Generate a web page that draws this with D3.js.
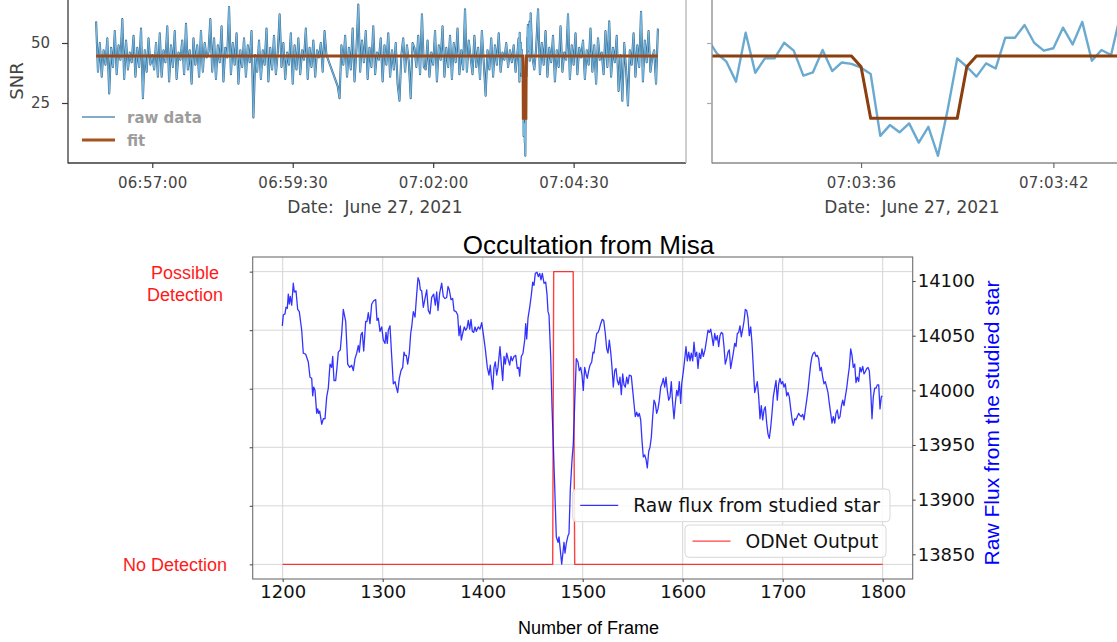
<!DOCTYPE html>
<html>
<head>
<meta charset="utf-8">
<script src="https://cdn.jsdelivr.net/npm/d3@7"></script>
<style>
  body { margin: 0; background: #fff; }
  svg { display: block; }
  text { white-space: pre; }
</style>
</head>
<body>
<svg id="stage" width="1117" height="642"></svg>
<script>
// ---- top panels: SNR light curve, 27 June 2021 ----
// coarse raw SNR, one value every snrStep seconds from 06:56:00 (null = no data / replaced by zoom samples)
const snrStep = 2;
const snrRaw = [
  59, 38, 50, 36, 47, 41, 52, 29, 48, 40, 55, 37, 49, 43, 60, 35, 51, 39, 46, 42,
  53, 36, 48, 40, 56, 27, 47, 38, 52, 41, 45, 39, 50, 36, 54, 36, 47, 42, 57, 34,
  49, 40, 55, 35, 46, 43, 51, 37, 58, 39, 47, 33, 52, 41, 49, 36, 55, 38, 50, 44,
  46, 60, 38, 52, 35, 49, 42, 57, 34, 48, 44, 65, 37, 50, 41, 54, 33, 47, 40, 52,
  36, 49, 42, 55, 19, 45, 38, 51, 35, 47, 41, 56, 34, 48, 39, 53, 37, 46, 62, 40,
  50, 35, 46, 41, 54, 33, 49, 39, 52, 37, 47, 43, 56, 35, 48, 40, 51, 36, 47, 44,
  50, 38, 55, 45, null, null, null, null, null, 32, 27, 49, 41, 53, 36, 48, 39, 56, 34, 47,
  66, 38, 51, 42, 55, 35, 48, 40, 57, 37, 46, 43, 52, 34, 49, 41, 54, 36, 47, 39,
  50, 33, 26, 45, 52, 38, 49, 42, 27, 50, 48, 40, 53, 37, 62, 40, 39, 51, 36, 46,
  41, 55, 34, 49, 43, 57, 36, 48, 40, 53, 35, 50, 42, 56, 37, 47, 39, 64, 38, 51,
  44, 37, 53, 40, 48, 35, 55, 42, 28, 47, 39, 52, 36, 49, 41, 54, 38, 46, 43, 50,
  40, 47, 42, 49, 38, 46, null, null, null, null, null, null, null, 44, 39, 48, 64, 37, 50, 41,
  55, 36, 48, 42, 53, 34, 47, 40, 57, 38, 46, 43, 62, 35, 49, 41, 54, 37, 48, 44,
  51, 35, 47, 41, 56, 38, 49, 33, 52, 43, 46, 37, 55, 40, 59, 36, 48, 42, 53, 30,
  45, 26, 50, 39, 24, 47, 41, 54, 36, 49, 40, 63, 34, 51, 42, 55, 38, 44, 47, 33,
  56
];
// full-rate samples around the event, seconds after 07:03:00
const zoomSeconds = [
  31.2, 31.5, 31.8, 32.1, 32.4, 32.7, 33.0, 33.3, 33.6, 33.9, 34.2, 34.5, 34.8, 35.1, 35.4,
  35.7, 36.0, 36.3, 36.6, 36.9, 37.2, 37.5, 37.8, 38.1, 38.4, 38.7, 39.0, 39.3, 39.6, 39.9,
  40.2, 40.5, 40.8, 41.1, 41.4, 41.7, 42.0, 42.3, 42.6, 42.9, 43.2, 43.5, 43.8, 44.1
];
const zoomSnr = [
  51.9, 45.7, 42.2, 33.9, 54.3, 37.6, 43.6, 43.6, 50.1, 46.8, 36.4, 37.8, 47.1, 38.3, 41.9,
  41.3, 39.7, 37.1, 11.3, 15.8, 12.8, 16.5, 8.5, 15.1, 3.0, 22.1, 43.6, 40.1, 36.0, 41.5,
  39.4, 52.2, 52.2, 57.5, 50.1, 46.8, 47.8, 56.4, 49.4, 58.8, 42.6, 47.1, 45.0, 62.4
];
// fitted model, seconds after 06:56:00
const fitSeconds = [0, 455.7, 456.0, 456.3, 459.0, 459.3, 459.6, 600];
const fitSnr = [44.6, 44.6, 40.1, 18.6, 18.6, 40.1, 44.6, 44.6];

const fullTicks = ["06:57:00", "06:59:30", "07:02:00", "07:04:30"];
const zoomTicks = ["07:03:36", "07:03:42"];
const snrTicks = [25, 50];

// ---- bottom panel: Occultation from Misa ----
const fluxFrames = [
  1199.6, 1200.6, 1202.3, 1203.3, 1204.6, 1205.6, 1206.6, 1207.6, 1209, 1210.6, 1211.6, 1213.3, 1215, 1216.6, 1219,
  1220.6, 1223, 1225.6, 1227.3, 1229, 1230, 1231, 1232.3, 1234, 1235, 1236, 1237, 1239, 1240.6, 1242.3,
  1244, 1245.6, 1247.3, 1249, 1250, 1251.3, 1253, 1254.3, 1255.6, 1257.6, 1259, 1260.6, 1263, 1265, 1267,
  1269, 1270.6, 1272.3, 1274, 1275.6, 1276.6, 1278.3, 1279.6, 1281, 1283, 1284.3, 1285.6, 1287.3, 1289, 1291,
  1293, 1294.3, 1295.6, 1297.3, 1299, 1300.6, 1302.3, 1303.3, 1304.6, 1305.6, 1307.3, 1309, 1310.6, 1312.3, 1313.6,
  1315, 1316.6, 1318.3, 1320, 1321.3, 1322.3, 1323.6, 1325, 1326.6, 1328, 1329, 1330.6, 1332.3, 1334, 1335.3,
  1336.6, 1337.6, 1339, 1340.6, 1342.3, 1344, 1345.6, 1347.3, 1349, 1351, 1352.6, 1354, 1355.3, 1357, 1359,
  1360.6, 1362.3, 1364, 1365.3, 1366.6, 1368.3, 1370, 1371.3, 1373.3, 1375, 1376.3, 1377.6, 1378.6, 1380, 1381.6,
  1383, 1384.3, 1385.6, 1387, 1388.3, 1389.6, 1391, 1392.3, 1393.6, 1395.6, 1397.3, 1399,
  1401, 1402.6, 1404.6, 1406.3, 1407.6, 1408.6, 1410, 1411.3, 1412.6, 1414, 1415.3, 1417.3, 1418.6, 1420, 1421.3,
  1422.6, 1424, 1425.3, 1427, 1428.3, 1429.6, 1431.3, 1433, 1434.6, 1436, 1437, 1438.6, 1440.3, 1442, 1443,
  1444, 1445.3, 1447, 1448.6, 1450, 1451.3, 1452.6, 1454.3, 1455.6, 1457, 1458.3, 1459.6, 1461.3, 1463, 1464.3,
  1465.3, 1466.3, 1468, 1469.3, 1470.6, 1472, 1473.6, 1475.3, 1476.3, 1477.6, 1479, 1480.3, 1481.3, 1482.3, 1483.6,
  1485.3, 1486.3, 1487.6, 1489.3, 1490.6, 1492, 1493.6, 1495.3, 1496.6, 1498, 1499.3, 1500.6, 1502, 1503.6, 1504.6,
  1506, 1507.3, 1509, 1510.3, 1511.3, 1512.6, 1514, 1515.3, 1516.6, 1518, 1519.6, 1521, 1522.6, 1524, 1525.3,
  1526.6, 1528, 1529.3, 1530.6, 1532, 1533.3, 1534.6, 1536, 1537.3, 1538.6, 1540, 1541.3, 1542.6, 1544, 1545.3,
  1546.6, 1548.6, 1550, 1551.3, 1552.6, 1554, 1555.3, 1556.6, 1558, 1559.3, 1560.6, 1562, 1563.3, 1564.6, 1566,
  1567.3, 1568.6, 1570, 1571.3, 1572.6, 1574, 1575.3, 1576.6, 1578, 1579.3, 1580.6, 1582, 1583.3, 1584.6, 1586,
  1587.3, 1588.6, 1590, 1591.3, 1592.6, 1594, 1595.3, 1596.6, 1598,
  1599, 1600.6, 1602.3, 1603.3, 1604.6, 1606, 1607.3, 1608.6, 1610, 1611.3, 1612.6, 1614, 1615.3, 1616.6, 1618,
  1619.3, 1620.6, 1622.3, 1624, 1625.3, 1626.6, 1628, 1629.3, 1630.6, 1632, 1633.3, 1634.6, 1636, 1637.3, 1638.6,
  1640, 1641.3, 1642.6, 1644, 1645.3, 1646.6, 1648, 1649.3, 1650.6, 1652, 1653.3, 1654.6, 1656, 1657.3, 1658.6,
  1660, 1661.3, 1662.6, 1664, 1665.3, 1666.6, 1668, 1669.3, 1670.6, 1672, 1673.3, 1674.6, 1676, 1677.3, 1678.6,
  1680, 1681.3, 1682.6, 1684, 1685.3, 1686.6, 1688, 1689.3, 1690.6, 1692, 1693.3, 1694.6, 1696, 1697.3, 1698.6,
  1700, 1701.3, 1702.6, 1704, 1705.3, 1706.6, 1708, 1709.3, 1710.6, 1712, 1713.3, 1714.6, 1716, 1717.3, 1718.6,
  1720, 1721.3, 1722.6, 1724, 1725.3, 1726.6, 1728, 1729.3, 1730.6, 1732, 1733.3, 1734.6, 1736, 1737.3, 1738.6,
  1740, 1741.3, 1742.6, 1744, 1745.3, 1746.6, 1748, 1749.3, 1750.6, 1752, 1753.3, 1754.6, 1756, 1757.3, 1758.6,
  1760, 1761.3, 1762.6, 1764, 1765.3, 1766.6, 1768, 1769.3, 1770.6, 1772, 1773.3, 1774.6, 1776, 1777.3, 1778.6,
  1780, 1781.3, 1782.6, 1784, 1785.3, 1786.6, 1788, 1789.3, 1790.6, 1792, 1793.3, 1794.6, 1796, 1797.3, 1798.6,
  1799.6
];
const fluxValues = [
  14059, 14069, 14070, 14076, 14075, 14088, 14079, 14086, 14078, 14098, 14090, 14091, 14074, 14072, 14055,
  14034, 14033, 14026, 14012, 14011, 13995, 14003, 14000, 13979, 13983, 13979, 13981, 13969, 13974, 13974,
  13994, 14002, 14024, 14021, 14031, 14009, 14009, 14021, 14035, 14037, 14052, 14074, 14063, 14024, 14021,
  14023, 14018, 14029, 14034, 14041, 14035, 14051, 14053, 14036, 14063, 14063, 14071, 14061, 14079, 14082,
  14083, 14064, 14066, 14054, 14058, 14046, 14043, 14053, 14043, 14055, 14059, 14031, 14006, 14008, 14003,
  13998, 14011, 14018, 14021, 14035, 14032, 14032, 14024, 14034, 14052, 14058, 14072, 14067, 14088, 14103,
  14100, 14092, 14091, 14076, 14084, 14092, 14073, 14070, 14085, 14088, 14078, 14090, 14073, 14089, 14098,
  14086, 14084, 14085, 14095, 14092, 14083, 14084, 14073, 14072, 14069, 14050, 14059, 14046, 14052, 14058,
  14055, 14057, 14064, 14056, 14065, 14054, 14053, 14058, 14054, 14058, 14056, 14062,
  14049, 14038, 14021, 14014, 14023, 14012, 14001, 14021, 14026, 14014, 14021, 14040, 14024, 14009, 14031,
  14024, 14034, 14029, 14023, 14031, 14027, 14031, 14032, 14020, 14021, 14013, 14031, 14034, 14046, 14061,
  14047, 14066, 14076, 14087, 14099, 14096, 14107, 14108, 14104, 14107, 14101, 14107, 14098, 14099, 14088,
  14072, 14069, 14031, 13985, 13951, 13912, 13866, 13861, 13866, 13854, 13841, 13852, 13861, 13851, 13860,
  13867, 13869, 13909, 13936, 13951, 13988, 14029, 14026, 14018, 14021, 14014, 14000, 14021, 14014, 14011,
  14018, 14023, 14026, 14035, 14034, 14043, 14052, 14053, 14056, 14061, 14065, 14064, 14052, 14038, 14034,
  14046, 14035, 14021, 14003, 14018, 14020, 14009, 14005, 14012, 13996, 14015, 14005, 14003, 14012, 14006,
  14014, 14013, 14000, 13988, 13976, 13980, 13976, 13979, 13973, 13954, 13939, 13941, 13937, 13929, 13944,
  13948, 13957, 13976, 13991, 13988, 13979, 13983, 13991, 14003, 14006, 14011, 14003, 14012, 14000, 13991,
  13994, 14008, 13988, 13974, 13988, 14000, 13995, 14008, 13988,
  14006, 14017, 14031, 14040, 14027, 14035, 14027, 14034, 14027, 14044, 14031, 14035, 14020, 14034, 14029,
  14038, 14031, 14037, 14047, 14055, 14053, 14056, 14049, 14041, 14052, 14046, 14050, 14040, 14050, 14053,
  14052, 14040, 14024, 14029, 14035, 14037, 14020, 14027, 14034, 14043, 14040, 14052, 14053, 14059, 14049,
  14056, 14063, 14074, 14073, 14066, 14050, 14058, 14043, 14021, 13998, 14003, 14008, 13994, 13974, 13986,
  13973, 13982, 13985, 13970, 13960, 13956, 13966, 13979, 13994, 14002, 14009, 13991, 14006, 14011, 14006,
  14008, 14003, 14006, 13995, 13998, 13994, 13983, 13974, 13968, 13974, 13973, 13976, 13979, 13977, 13976,
  13978, 13973, 13982, 13991, 14000, 14012, 14024, 14031, 14034, 14035, 14031, 14032, 14029, 14018, 14021,
  14012, 14006, 14008, 14003, 13998, 13988, 13979, 13970, 13976, 13970, 13979, 13982, 13974, 13976, 13985,
  13991, 13986, 13994, 14002, 14012, 14021, 14038, 14032, 14021, 14024, 14007, 14012, 14008, 14021, 14017,
  14022, 14015, 14017, 14020, 14021, 14018, 14000, 13974, 13994, 14002, 14002, 14005, 14005, 13983, 13994,
  13995
];
const odnetFrames = [1200, 1470, 1471, 1490.5, 1492, 1800];
const odnetValues = [0, 0, 1, 1, 0, 0];
const frameTicks = [1200, 1300, 1400, 1500, 1600, 1700, 1800];
const fluxTicks = [13850, 13900, 13950, 14000, 14050, 14100];
const detectionTicks = [0, 0.2, 0.4, 0.6, 0.8, 1];

const svg = d3.select("#stage");
svg.append("rect").attr("width", 1117).attr("height", 642).attr("fill", "#fff");

const DV = "DejaVu Sans";
const LS = "Liberation Sans, Arial, sans-serif";

// time helpers
const t0 = new Date(2021, 5, 27, 6, 56, 0);
const at = (s) => new Date(+t0 + s * 1000);
const parseClock = d3.timeParse("%H:%M:%S");
const onDay = (str) => {
  const c = parseClock(str);
  return new Date(2021, 5, 27, c.getHours(), c.getMinutes(), c.getSeconds());
};
const clockFmt = d3.timeFormat("%H:%M:%S");

// series in seconds after 06:56:00
const zoomPts = zoomSeconds.map((s, i) => ({ s: s + 420, v: zoomSnr[i] }));
const zStart = zoomPts[0].s, zEnd = zoomPts[zoomPts.length - 1].s;
const fullPts = snrRaw
  .map((v, i) => ({ s: i * snrStep, v }))
  .filter((d) => d.v !== null && (d.s < zStart || d.s > zEnd))
  .concat(zoomPts)
  .sort((a, b) => a.s - b.s);
const fitPts = fitSeconds.map((s, i) => ({ s, v: fitSnr[i] }));

const ySnr = d3.scaleLinear().domain([0, 50]).range([163, 43]);

// ---------- top-left: whole night ----------
const xFull = d3.scaleTime().domain([at(-30), at(630)]).range([68, 686]);
const defs = svg.append("defs");
defs.append("clipPath").attr("id", "clipL").append("rect")
  .attr("x", 68).attr("y", -20).attr("width", 618).attr("height", 183);
defs.append("clipPath").attr("id", "clipR").append("rect")
  .attr("x", 712).attr("y", -20).attr("width", 420).attr("height", 183);

const lineL = d3.line().x((d) => xFull(at(d.s))).y((d) => ySnr(d.v));
const gL = svg.append("g").attr("clip-path", "url(#clipL)");
gL.append("path").datum(fullPts).attr("d", lineL)
  .attr("fill", "none").attr("stroke", "#3a6a8c").attr("stroke-width", 2.1).attr("stroke-linejoin", "round");
gL.append("path").datum(fullPts).attr("d", lineL)
  .attr("fill", "none").attr("stroke", "#78bce6").attr("stroke-width", 1.0).attr("stroke-linejoin", "round");
gL.append("path").datum(fitPts).attr("d", lineL)
  .attr("fill", "none").attr("stroke", "#9a4a1a").attr("stroke-width", 3);

// spines
svg.append("line").attr("x1", 68).attr("x2", 68).attr("y1", -5).attr("y2", 163.5)
  .attr("stroke", "#3a3a3a").attr("stroke-width", 1.3);
svg.append("line").attr("x1", 68).attr("x2", 686).attr("y1", 163).attr("y2", 163)
  .attr("stroke", "#3a3a3a").attr("stroke-width", 1.3);
svg.append("line").attr("x1", 686).attr("x2", 686).attr("y1", -5).attr("y2", 163)
  .attr("stroke", "#b4b4b4").attr("stroke-width", 1.3);

const axL = svg.append("g").attr("transform", "translate(0,163)")
  .call(d3.axisBottom(xFull).tickValues(fullTicks.map(onDay)).tickFormat(clockFmt).tickSize(5).tickPadding(9));
const axLy = svg.append("g").attr("transform", "translate(68,0)")
  .call(d3.axisLeft(ySnr).tickValues(snrTicks).tickSize(6).tickPadding(12));
[axL, axLy].forEach((g) => {
  g.select(".domain").remove();
  g.selectAll("line").attr("stroke", "#3a3a3a").attr("stroke-width", 1.2);
  g.selectAll("text").attr("font-family", DV).attr("font-size", 15).attr("fill", "#444");
});
axL.selectAll("text").attr("letter-spacing", 0.3);

svg.append("text").attr("transform", "translate(23,81) rotate(-90)").attr("text-anchor", "middle")
  .attr("font-family", DV).attr("font-size", 18).attr("fill", "#444").text("SNR");
svg.append("text").attr("x", 375).attr("y", 213).attr("text-anchor", "middle")
  .attr("font-family", DV).attr("font-size", 17).attr("fill", "#444").text("Date:  June 27, 2021");

// legend
svg.append("line").attr("x1", 82).attr("x2", 115).attr("y1", 117).attr("y2", 117)
  .attr("stroke", "#5a90b4").attr("stroke-width", 1.5);
svg.append("line").attr("x1", 82).attr("x2", 115).attr("y1", 140).attr("y2", 140)
  .attr("stroke", "#a5531f").attr("stroke-width", 3);
svg.append("text").attr("x", 127).attr("y", 122.5).attr("font-family", DV).attr("font-weight", "bold")
  .attr("font-size", 15).attr("fill", "#9c9c9c").text("raw data");
svg.append("text").attr("x", 127).attr("y", 145.5).attr("font-family", DV).attr("font-weight", "bold")
  .attr("font-size", 15).attr("fill", "#9c9c9c").text("fit");

// ---------- top-right: zoom on the event ----------
const xZoom = d3.scaleTime().domain([at(451.35), at(464.39)]).range([712, 1130]);
const lineR = d3.line().x((d) => xZoom(at(d.s))).y((d) => ySnr(d.v));
const gR = svg.append("g").attr("clip-path", "url(#clipR)");
gR.append("path").datum(zoomPts).attr("d", lineR)
  .attr("fill", "none").attr("stroke", "#6aaad1").attr("stroke-width", 2.4).attr("stroke-linejoin", "round");
gR.append("path").datum(fitPts).attr("d", lineR)
  .attr("fill", "none").attr("stroke", "#8b3e0e").attr("stroke-width", 3).attr("stroke-linejoin", "round");

svg.append("line").attr("x1", 712).attr("x2", 712).attr("y1", -5).attr("y2", 163.5)
  .attr("stroke", "#8a8a8a").attr("stroke-width", 1.3);
svg.append("line").attr("x1", 712).attr("x2", 1117).attr("y1", 163).attr("y2", 163)
  .attr("stroke", "#8a8a8a").attr("stroke-width", 1.3);

const axR = svg.append("g").attr("transform", "translate(0,163)")
  .call(d3.axisBottom(xZoom).tickValues(zoomTicks.map(onDay)).tickFormat(clockFmt).tickSize(5).tickPadding(9));
const axRy = svg.append("g").attr("transform", "translate(712,0)")
  .call(d3.axisLeft(ySnr).tickValues(snrTicks).tickSize(5).tickFormat(""));
[axR, axRy].forEach((g) => {
  g.select(".domain").remove();
  g.selectAll("line").attr("stroke", "#6a6a6a").attr("stroke-width", 1.2);
  g.selectAll("text").attr("font-family", DV).attr("font-size", 15).attr("fill", "#444");
});
axRy.selectAll("line").attr("stroke", "#aaa");
axR.selectAll("text").attr("letter-spacing", 0.3);
svg.append("text").attr("x", 912).attr("y", 213).attr("text-anchor", "middle")
  .attr("font-family", DV).attr("font-size", 17).attr("fill", "#444").text("Date:  June 27, 2021");

// ---------- bottom: ODNet output vs raw flux ----------
const box = { l: 252.7, r: 912.7, t: 257, b: 579 };
const xF = d3.scaleLinear().domain([1170, 1830]).range([box.l, box.r]);
const yD = d3.scaleLinear().domain([-0.05, 1.05]).range([box.b, box.t]);
const yF = d3.scaleLinear().domain([13827.4, 14122]).range([box.b, box.t]);

const grid = svg.append("g").attr("stroke", "#d6d6d6").attr("stroke-width", 1);
grid.selectAll(".v").data(frameTicks).join("line")
  .attr("x1", (d) => xF(d)).attr("x2", (d) => xF(d)).attr("y1", box.t).attr("y2", box.b);
grid.selectAll(".h").data(detectionTicks).join("line")
  .attr("x1", box.l).attr("x2", box.r).attr("y1", (d) => yD(d)).attr("y2", (d) => yD(d));

const odnetPts = odnetFrames.map((f, i) => ({ f, v: odnetValues[i] }));
svg.append("path").datum(odnetPts)
  .attr("d", d3.line().x((d) => xF(d.f)).y((d) => yD(d.v)))
  .attr("fill", "none").attr("stroke", "#ff0000").attr("stroke-opacity", 0.75)
  .attr("stroke-width", 1.4).attr("stroke-linejoin", "round");

const fluxPts = fluxFrames.map((f, i) => ({ f, v: fluxValues[i] }));
svg.append("path").datum(fluxPts)
  .attr("d", d3.line().x((d) => xF(d.f)).y((d) => yF(d.v)))
  .attr("fill", "none").attr("stroke", "#0000ff").attr("stroke-opacity", 0.8)
  .attr("stroke-width", 1.3).attr("stroke-linejoin", "round");

svg.append("rect").attr("x", box.l).attr("y", box.t).attr("width", box.r - box.l).attr("height", box.b - box.t)
  .attr("fill", "none").attr("stroke", "#6e6e6e").attr("stroke-width", 1.1);

const intFmt = d3.format("d");
const axB = svg.append("g").attr("transform", `translate(0,${box.b})`)
  .call(d3.axisBottom(xF).tickValues(frameTicks).tickFormat(intFmt).tickSize(3).tickPadding(3));
const axFR = svg.append("g").attr("transform", `translate(${box.r},0)`)
  .call(d3.axisRight(yF).tickValues(fluxTicks).tickFormat(intFmt).tickSize(3).tickPadding(2));
const axDL = svg.append("g").attr("transform", `translate(${box.l},0)`)
  .call(d3.axisLeft(yD).tickValues(detectionTicks).tickSize(3).tickFormat(""));
[axB, axFR, axDL].forEach((g) => {
  g.select(".domain").remove();
  g.selectAll("line").attr("stroke", "#444");
  g.selectAll("text").attr("font-family", DV).attr("font-size", 18).attr("fill", "#111");
});

// detection labels on the left axis
const red = "#ff1a1a";
svg.append("text").attr("x", 185).attr("y", yD(1) + 7.5).attr("text-anchor", "middle")
  .attr("font-family", LS).attr("font-size", 18).attr("fill", red).text("Possible");
svg.append("text").attr("x", 185).attr("y", yD(1) + 29.5).attr("text-anchor", "middle")
  .attr("font-family", LS).attr("font-size", 18).attr("fill", red).text("Detection");
svg.append("text").attr("x", 227).attr("y", yD(0) + 6.5).attr("text-anchor", "end")
  .attr("font-family", LS).attr("font-size", 18).attr("fill", red).text("No Detection");

svg.append("text").attr("x", 588.5).attr("y", 254).attr("text-anchor", "middle")
  .attr("font-family", LS).attr("font-size", 26).attr("fill", "#000").text("Occultation from Misa");
svg.append("text").attr("x", 588.5).attr("y", 634).attr("text-anchor", "middle")
  .attr("font-family", LS).attr("font-size", 18).attr("fill", "#000").text("Number of Frame");
svg.append("text").attr("transform", "translate(999,423) rotate(-90)").attr("text-anchor", "middle")
  .attr("font-family", LS).attr("font-size", 21).attr("fill", "#0000ff").text("Raw Flux from the studied star");

// legends
const legends = [
  { x: 572.7, y: 489, w: 317.3, h: 32.7, color: "#0000ff", op: 0.8, label: "Raw flux from studied star" },
  { x: 685, y: 525, w: 201, h: 32.3, color: "#ff0000", op: 0.75, label: "ODNet Output" },
];
legends.forEach((d) => {
  const g = svg.append("g");
  g.append("rect").attr("x", d.x).attr("y", d.y).attr("width", d.w).attr("height", d.h).attr("rx", 4)
    .attr("fill", "#fff").attr("fill-opacity", 0.85).attr("stroke", "#d8d8d8").attr("stroke-width", 1);
  const cy = d.y + d.h / 2;
  g.append("line").attr("x1", d.x + 7.5).attr("x2", d.x + 45.5).attr("y1", cy).attr("y2", cy)
    .attr("stroke", d.color).attr("stroke-opacity", d.op).attr("stroke-width", 1.4);
  g.append("text").attr("x", d.x + 60.5).attr("y", cy + 6.8)
    .attr("font-family", DV).attr("font-size", 18.7).attr("fill", "#111").text(d.label);
});
</script>
</body>
</html>
